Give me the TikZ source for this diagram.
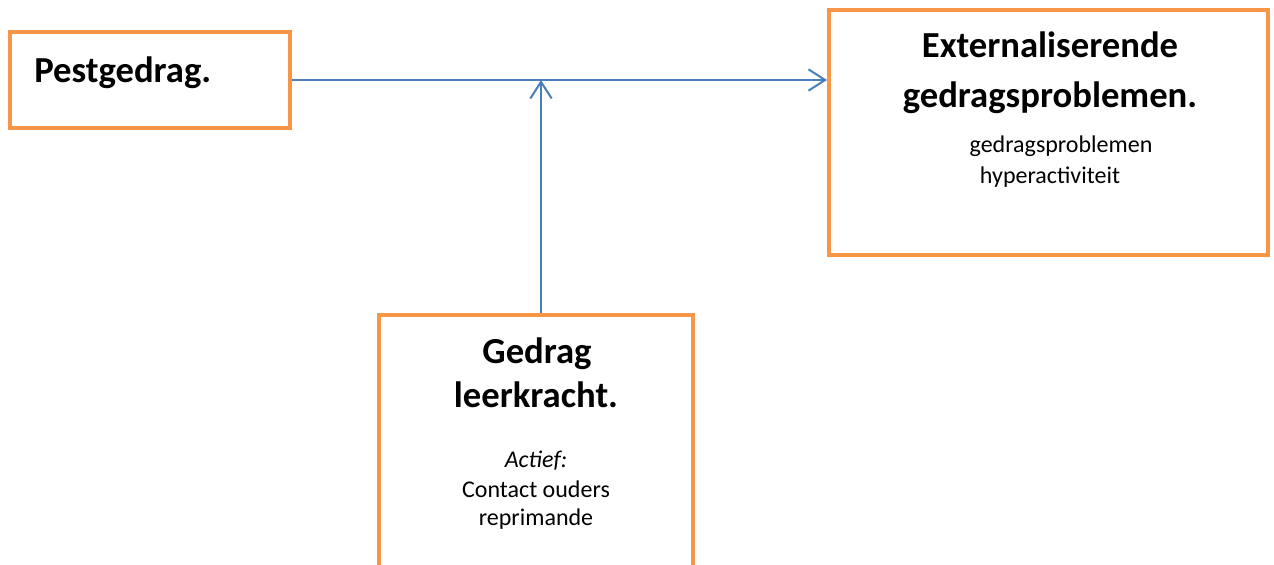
\documentclass[tikz,border=0pt]{standalone}
\usepackage{fontspec}
\setmainfont{Carlito}
\usetikzlibrary{positioning,calc,fit,arrows.meta}
\definecolor{boxorange}{HTML}{F79646}
\definecolor{linkblue}{HTML}{4A7EBB}

\begin{document}
\begin{tikzpicture}[x=0.75pt,y=-0.75pt]
        \tikzset{
            box/.style={draw=boxorange, line width=3pt, inner sep=0pt},
            head/.style={font=\bfseries\fontsize{27.5}{33}\selectfont, inner sep=0pt},
            item/.style={font=\fontsize{18}{22}\selectfont, inner sep=0pt},
            link/.style={draw=linkblue, line width=1.5pt, -{Straight Barb[length=12.5pt,width=16pt]}}
        }
        \useasboundingbox (0,0) rectangle (1274,564);
        \coordinate (meet) at (541,80);
        \node[box, fit={(10,32) (290,128)}] (pest) {};
        \node[box, fit={(829,10) (1268,255)}] (ext) {};
        \node[box, fit={(379,315) (693,620)}] (gedrag) {};
        \draw[link] (pest.east) -- (pest.east -| ext.west);
        \draw[link] (gedrag.north -| meet) -- (meet);
        % texts
        \node[head, anchor=base west] (pesttxt) at (34,82) {Pestgedrag.};
        \node[head, anchor=base] (ext1) at (1050,57) {Externaliserende};
        \node[head, anchor=base] (ext2) at (1050,107) {gedragsproblemen.};
        \node[item, anchor=base] (ext3) at (1061,152) {gedragsproblemen};
        \node[item, anchor=base] (ext4) at (1050,183) {hyperactiviteit};
        \node[head, anchor=base] (ged1) at (537,363) {Gedrag};
        \node[head, anchor=base] (ged2) at (536,407) {leerkracht.};
        \node[item, anchor=base] (ged3) at (536,467) {\itshape Actief:};
        \node[item, anchor=base] (ged4) at (536,497) {Contact ouders};
        \node[item, anchor=base] (ged5) at (536,525) {reprimande};
    \end{tikzpicture}
\end{document}
